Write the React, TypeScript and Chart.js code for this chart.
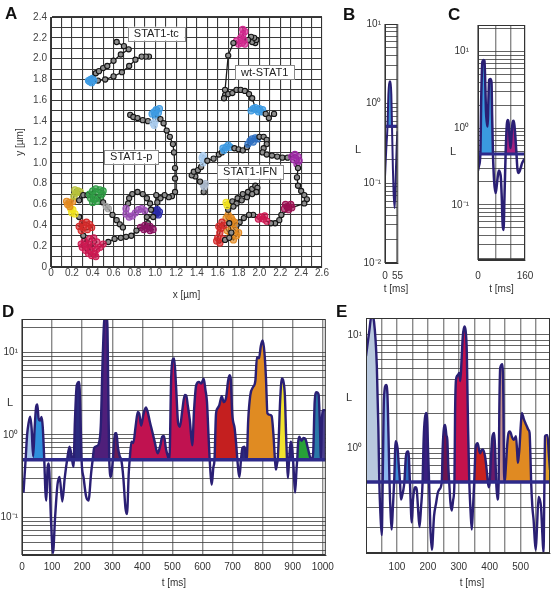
import React, { useEffect, useRef } from 'react';
import { Chart, registerables } from 'chart.js';

Chart.register(...registerables);

const FONT = '"Liberation Sans", Arial, Helvetica, sans-serif';
Chart.defaults.font.family = FONT;
Chart.defaults.font.size = 10;
Chart.defaults.color = '#333';

// ---------------- Panel A : trajectories [x (µm), y (µm), state] ----------------
const A_PALETTE = ['#1b1b1b', '#3d9be3', '#d22a8f', '#a9ccef', '#2a2aa8', '#9b4db5', '#8c1462', '#cd1a52', '#d42a2a', '#f2e21e', '#e3891f', '#b7c23a', '#2e9c44', '#a4a4a4', '#aab8cc', '#2f70c2', '#9d2aa5', '#9c1152'];

const TRACK_TC = [
  [0.94, 2.02, 0], [0.91, 2.02, 0], [0.87, 2.02, 0], [0.81, 1.99, 0], [0.75, 1.93, 0], [0.68, 1.87, 0], [0.6, 1.83, 0], [0.52, 1.8, 0], [0.45, 1.79, 0],
  [0.41, 1.79, 1], [0.39, 1.77, 1], [0.37, 1.78, 1], [0.38, 1.8, 1], [0.4, 1.81, 1], [0.36, 1.79, 1],
  [0.43, 1.86, 0], [0.46, 1.88, 0], [0.5, 1.91, 0], [0.54, 1.93, 0], [0.6, 1.98, 0], [0.67, 2.04, 0], [0.745, 2.09, 0], [0.7, 2.12, 0], [0.63, 2.16, 0],
];

const TRACK_WT = [
  [1.96, 2.15, 0], [1.93, 2.16, 0], [1.97, 2.18, 0], [1.95, 2.2, 0], [1.92, 2.21, 0], [1.89, 2.18, 0],
  [1.86, 2.14, 2], [1.84, 2.28, 2], [1.86, 2.26, 2], [1.84, 2.23, 2], [1.82, 2.2, 2], [1.85, 2.18, 2], [1.83, 2.15, 2], [1.8, 2.14, 2], [1.78, 2.17, 2],
  [1.75, 2.15, 0], [1.7, 2.03, 0], [1.67, 1.7, 0], [1.67, 1.65, 0], [1.66, 1.62, 0], [1.7, 1.66, 0], [1.74, 1.67, 0], [1.78, 1.7, 0], [1.82, 1.7, 0], [1.86, 1.69, 0], [1.9, 1.66, 0], [1.93, 1.62, 0],
  [1.96, 1.53, 1], [2.02, 1.49, 1], [1.99, 1.49, 1], [1.92, 1.5, 1], [1.94, 1.52, 1], [1.97, 1.51, 1], [2.0, 1.52, 1], [2.03, 1.51, 1],
  [2.06, 1.47, 0], [2.09, 1.43, 0], [2.14, 1.47, 0],
];

const TRACK_P = [
  [0.76, 1.46, 0], [0.79, 1.44, 0], [0.83, 1.43, 0], [0.88, 1.41, 0], [0.93, 1.4, 0],
  [0.98, 1.38, 3], [1.0, 1.4, 3], [0.99, 1.36, 3],
  [0.97, 1.47, 1], [0.99, 1.49, 1], [1.01, 1.51, 1], [1.04, 1.52, 1], [1.03, 1.48, 1], [1.0, 1.46, 1],
  [1.05, 1.42, 0], [1.08, 1.38, 0], [1.11, 1.31, 0], [1.14, 1.25, 0], [1.17, 1.18, 0], [1.18, 1.1, 0], [1.19, 0.95, 0], [1.19, 0.85, 0], [1.19, 0.72, 0], [1.16, 0.68, 0], [1.13, 0.67, 0], [1.09, 0.69, 0], [1.05, 0.66, 0], [1.01, 0.69, 0], [1.02, 0.62, 0],
  [1.02, 0.55, 4], [1.04, 0.53, 4], [1.01, 0.51, 4], [1.0, 0.54, 4], [1.03, 0.5, 4],
  [0.98, 0.48, 0], [0.96, 0.55, 0], [0.95, 0.61, 0], [0.92, 0.66, 0], [0.88, 0.7, 0], [0.83, 0.72, 0], [0.78, 0.7, 0], [0.75, 0.66, 0], [0.74, 0.61, 0],
  [0.72, 0.56, 5], [0.72, 0.51, 5], [0.75, 0.48, 5], [0.78, 0.49, 5], [0.81, 0.52, 5], [0.84, 0.55, 5], [0.87, 0.56, 5], [0.9, 0.54, 5],
  [0.92, 0.48, 0], [0.93, 0.42, 0],
  [0.95, 0.39, 6], [0.98, 0.36, 6], [0.95, 0.35, 6], [0.92, 0.37, 6], [0.9, 0.4, 6], [0.89, 0.36, 6], [0.86, 0.38, 6],
  [0.82, 0.35, 0], [0.77, 0.3, 0], [0.72, 0.29, 0], [0.67, 0.28, 0], [0.61, 0.27, 0], [0.55, 0.24, 0],
  [0.5, 0.22, 7], [0.47, 0.19, 7], [0.44, 0.17, 7], [0.43, 0.1, 7], [0.42, 0.13, 7], [0.39, 0.11, 7], [0.36, 0.13, 7], [0.33, 0.16, 7], [0.3, 0.19, 7], [0.29, 0.22, 7], [0.32, 0.25, 7], [0.36, 0.22, 7], [0.4, 0.2, 7], [0.44, 0.24, 7], [0.41, 0.28, 7], [0.37, 0.27, 7], [0.34, 0.2, 7], [0.38, 0.16, 7],
  [0.31, 0.3, 0],
  [0.29, 0.35, 8], [0.35, 0.36, 8], [0.39, 0.38, 8], [0.37, 0.41, 8], [0.34, 0.43, 8], [0.3, 0.42, 8], [0.27, 0.39, 8], [0.31, 0.38, 8],
  [0.27, 0.48, 0],
  [0.23, 0.51, 9], [0.2, 0.52, 9], [0.21, 0.55, 9], [0.19, 0.56, 9],
  [0.18, 0.58, 10], [0.16, 0.6, 10], [0.15, 0.63, 10], [0.18, 0.62, 10], [0.21, 0.63, 10],
  [0.22, 0.68, 11], [0.24, 0.71, 11], [0.23, 0.74, 11], [0.26, 0.73, 11], [0.28, 0.72, 11],
  [0.27, 0.64, 0], [0.31, 0.69, 0], [0.35, 0.69, 0],
  [0.38, 0.66, 12], [0.37, 0.7, 12], [0.4, 0.73, 12], [0.43, 0.75, 12], [0.47, 0.74, 12], [0.5, 0.73, 12], [0.49, 0.7, 12], [0.47, 0.66, 12], [0.44, 0.63, 12], [0.4, 0.62, 12], [0.41, 0.65, 12], [0.43, 0.7, 12],
  [0.5, 0.62, 0],
  [0.53, 0.58, 13], [0.55, 0.56, 13],
  [0.59, 0.5, 0], [0.63, 0.45, 0], [0.66, 0.41, 0], [0.69, 0.38, 0],
];

const TRACK_IFN = [
  [1.465, 0.72, 0],
  [1.47, 0.77, 14], [1.48, 0.8, 14], [1.46, 0.79, 14],
  [1.43, 0.82, 0], [1.385, 0.87, 0], [1.35, 0.88, 0], [1.37, 0.915, 0], [1.41, 0.93, 0], [1.44, 0.96, 0],
  [1.46, 1.0, 3], [1.47, 1.03, 3], [1.45, 1.05, 3], [1.46, 1.07, 3],
  [1.5, 1.02, 0], [1.56, 1.04, 0], [1.61, 1.08, 0], [1.64, 1.1, 0],
  [1.65, 1.14, 1], [1.66, 1.12, 1], [1.68, 1.15, 1], [1.7, 1.17, 1], [1.72, 1.15, 1],
  [1.76, 1.14, 0], [1.8, 1.13, 0], [1.84, 1.12, 0], [1.88, 1.15, 0],
  [1.89, 1.18, 15], [1.91, 1.21, 15], [1.94, 1.2, 15], [1.93, 1.23, 15], [1.96, 1.24, 15], [1.98, 1.23, 15],
  [2.0, 1.25, 0], [2.04, 1.25, 0], [2.07, 1.22, 0], [2.07, 1.18, 0], [2.04, 1.14, 0], [2.03, 1.1, 0], [2.07, 1.08, 0], [2.12, 1.07, 0], [2.17, 1.06, 0], [2.22, 1.05, 0], [2.27, 1.05, 0],
  [2.31, 1.06, 16], [2.34, 1.08, 16], [2.37, 1.06, 16], [2.38, 1.02, 16], [2.36, 0.99, 16], [2.33, 1.03, 16],
  [2.37, 0.95, 0], [2.36, 0.86, 0], [2.37, 0.78, 0], [2.4, 0.73, 0], [2.43, 0.69, 0], [2.455, 0.65, 0], [2.43, 0.61, 0],
  [2.31, 0.57, 17], [2.3, 0.6, 17], [2.27, 0.58, 17], [2.25, 0.6, 17], [2.24, 0.56, 17], [2.28, 0.55, 17],
  [2.21, 0.5, 0], [2.19, 0.45, 0], [2.15, 0.42, 0], [2.11, 0.42, 0],
  [2.07, 0.44, 7], [2.05, 0.49, 7], [2.04, 0.46, 7], [2.01, 0.48, 7], [1.99, 0.46, 7],
  [1.94, 0.5, 0], [1.9, 0.5, 0], [1.85, 0.47, 0], [1.81, 0.43, 0], [1.78, 0.4, 0],
  [1.76, 0.43, 10], [1.74, 0.45, 10], [1.73, 0.47, 10], [1.7, 0.5, 10], [1.68, 0.47, 10], [1.72, 0.42, 10], [1.76, 0.36, 10], [1.8, 0.33, 10], [1.78, 0.3, 10], [1.75, 0.26, 10], [1.72, 0.3, 10], [1.69, 0.35, 10],
  [1.66, 0.4, 8], [1.64, 0.43, 8], [1.61, 0.39, 8], [1.63, 0.37, 8], [1.62, 0.33, 8], [1.6, 0.28, 8], [1.59, 0.25, 8], [1.62, 0.23, 8], [1.65, 0.27, 8],
  [1.67, 0.26, 0], [1.71, 0.28, 0], [1.73, 0.33, 0], [1.71, 0.42, 0], [1.7, 0.55, 0],
  [1.69, 0.59, 9], [1.71, 0.61, 9], [1.68, 0.62, 9],
  [1.74, 0.63, 0], [1.79, 0.66, 0], [1.84, 0.7, 0], [1.89, 0.72, 0], [1.93, 0.75, 0], [1.96, 0.78, 0], [1.98, 0.76, 0], [1.97, 0.72, 0], [1.93, 0.7, 0], [1.88, 0.67, 0], [1.83, 0.64, 0], [1.78, 0.61, 0], [1.75, 0.58, 0],
];

const A_LABEL_TEXT = ['STAT1-tc', 'wt-STAT1', 'STAT1-p', 'STAT1-IFN'];
const A_LABEL_X = [1.01, 2.05, 0.77, 1.91];
const A_LABEL_Y = [2.24, 1.87, 1.06, 0.915];

// ---------------- Panels B-E : L(t) on log scale, [t (ms), L] ----------------
const B_POINTS = [[0, 0.12], [5, 0.25], [11, 0.52], [15, 1.3], [19, 1.9], [25, 1.9], [28, 1.3], [31, 0.52], [35, 0.15], [38, 0.076], [43, 0.049], [48, 0.14], [52, 0.3], [55, 0.45]];
const B_SEGMENTS = [[11, 31]];
const B_SEG_COLORS = ['#3a8fd8'];
const B_THRESHOLD = 0.52;

const C_POINTS = [
  [0, 0.28], [3, 0.32], [8, 0.46], [11, 2.5], [15, 7.4], [19, 7.8], [22, 7.6], [25, 3.5], [27, 1.73], [30, 1.2],
  [33, 1.05], [35, 2.0], [38, 4.26], [42, 4.4], [46, 4.0], [48, 1.5], [51, 0.46], [55, 0.2], [60, 0.142], [64, 0.18],
  [67, 0.23], [71, 0.28], [74, 0.27], [78, 0.22], [81, 0.12], [84, 0.055], [87, 0.047], [90, 0.12], [94, 0.46], [98, 1.1],
  [101, 1.28], [104, 1.2], [108, 0.7], [111, 0.55], [115, 0.9], [118, 1.2], [121, 1.25], [124, 1.1], [128, 0.7], [131, 0.46],
  [134, 0.3], [137, 0.26], [141, 0.27], [145, 0.3], [150, 0.35], [155, 0.38], [160, 0.4],
];
const C_SEGMENTS = [[8, 51], [94, 131]];
const C_SEG_COLORS = ['#3a9ae0', '#a3207f'];
const C_THRESHOLD = 0.46;

const D_POINTS = [
  [5, 0.2], [12, 0.5], [17, 1.0], [22, 1.4], [27, 1.66], [32, 1.2], [37, 0.55], [42, 1.2], [47, 2.2], [51, 2.35],
  [55, 1.6], [60, 1.5], [65, 1.65], [69, 1.25], [74, 0.5], [78, 0.2], [81, 0.16], [85, 0.4], [89, 0.45], [96, 0.1],
  [103, 0.037], [110, 0.1], [118, 0.25], [125, 0.31], [134, 0.156], [142, 0.3], [150, 0.5], [158, 0.72], [165, 0.55], [171, 0.41],
  [176, 1.5], [182, 4.0], [190, 4.4], [194, 2.0], [198, 0.5], [205, 0.3], [213, 0.18], [221, 0.16], [230, 0.35], [235, 0.5],
  [240, 0.7], [248, 0.73], [256, 0.8], [262, 1.3], [268, 8], [275, 28], [283, 28], [287, 3], [290, 0.5], [296, 0.31],
  [302, 0.5], [309, 1.05], [314, 1.05], [319, 0.7], [325, 0.55], [330, 0.5], [337, 0.3], [344, 0.13], [349, 0.11], [355, 0.35],
  [358, 0.5], [364, 0.83], [370, 0.8], [378, 1.3], [385, 1.9], [390, 1.8], [396, 1.3], [404, 1.8], [412, 2.16], [418, 1.9],
  [425, 1.45], [433, 1.1], [441, 0.83], [451, 0.6], [460, 0.75], [466, 0.95], [472, 0.97], [478, 0.7], [485, 0.55], [490, 0.5],
  [496, 5], [501, 8.2], [506, 8.5], [512, 4], [519, 1.4], [525, 1.26], [533, 2.0], [541, 3.05], [546, 3.0], [551, 2.3],
  [558, 1.5], [566, 0.75], [572, 2.0], [579, 4.0], [588, 4.4], [596, 4.2], [604, 4.8], [610, 3.5], [615, 2.5], [620, 1.0],
  [624, 0.5], [628, 0.3], [631, 0.25], [636, 0.4], [640, 0.5], [645, 1.8], [650, 2.1], [656, 2.3], [664, 2.95], [671, 2.5],
  [679, 2.9], [685, 4.5], [690, 5.3], [694, 4.8], [699, 1.8], [707, 1.2], [713, 0.7], [716, 0.5], [720, 0.35], [723, 0.31],
  [728, 0.5], [733, 0.7], [740, 0.72], [747, 0.5], [752, 1.5], [759, 3.05], [768, 3.8], [776, 4.6], [781, 8.8], [788, 8.5],
  [794, 12], [800, 14], [806, 10], [811, 5], [816, 1.83], [825, 1.75], [830, 1.7], [836, 1.0], [841, 0.5], [844, 0.38],
  [848, 0.45], [850, 0.5], [853, 0.8], [858, 2.5], [864, 4.85], [869, 4.5], [874, 3.0], [878, 1.0], [881, 0.5], [884, 0.3],
  [888, 0.5], [893, 0.83], [897, 0.75], [902, 0.45], [908, 0.2], [913, 0.4], [915, 0.5], [918, 0.8], [922, 0.95], [929, 0.85],
  [936, 0.92], [943, 0.88], [950, 0.7], [957, 0.55], [963, 0.5], [968, 0.6], [973, 2.5], [979, 3.3], [986, 3.1], [990, 1.5],
  [994, 0.5], [997, 1.5], [1002, 2.0], [1010, 2.0],
];
const D_SEGMENTS = [[12, 37], [37, 74], [235, 290], [302, 330], [358, 624], [640, 716], [747, 841], [850, 881], [915, 963], [963, 994], [994, 1010]];
const D_SEG_COLORS = ['#a9c9ee', '#2f8fdc', '#4f1f7a', '#6b1d56', '#c01250', '#c41f1f', '#e08b22', '#f1e22e', '#27a038', '#2a78a8', '#4a3f8f'];
const D_THRESHOLD = 0.5;

const E_POINTS = [
  [0, 6.5], [11, 11], [18, 15], [26, 13], [35, 5.3], [40, 1.5], [43, 0.5], [47, 0.25], [51, 0.17], [54, 0.5],
  [58, 2.7], [65, 3.6], [69, 3.1], [73, 1.2], [76, 0.5], [80, 0.25], [83, 0.19], [87, 0.3], [91, 0.5], [96, 1.15],
  [102, 1.0], [106, 0.7], [110, 0.5], [113, 0.35], [117, 0.38], [121, 0.43], [124, 0.5], [129, 0.84], [134, 0.93], [137, 0.93],
  [142, 0.5], [148, 0.22], [152, 0.35], [156, 0.43], [160, 0.45], [164, 0.43], [168, 0.3], [173, 0.2], [178, 0.3], [183, 0.5],
  [186, 1.1], [189, 1.66], [194, 2.04], [198, 1.7], [201, 0.9], [204, 0.5], [208, 0.2], [213, 0.126], [220, 0.25], [227, 0.33],
  [232, 0.4], [237, 0.43], [245, 0.5], [248, 1.0], [252, 1.5], [256, 1.6], [260, 1.3], [263, 1.18], [266, 0.7], [269, 0.5],
  [273, 0.33], [277, 0.28], [282, 0.35], [286, 0.5], [288, 2.0], [291, 4.0], [297, 4.4], [301, 4.6], [305, 3.9], [309, 6.0],
  [313, 9.7], [318, 11.9], [322, 11], [326, 7], [330, 1.5], [334, 0.5], [338, 0.28], [342, 0.19], [346, 0.3], [350, 0.5],
  [353, 0.85], [355, 1.03], [361, 1.1], [366, 0.95], [369, 0.9], [373, 0.95], [378, 0.97], [385, 0.84], [390, 0.65], [394, 0.5],
  [397, 0.45], [400, 0.5], [405, 0.9], [409, 1.27], [415, 1.36], [418, 0.9], [421, 0.5], [425, 0.35], [429, 0.5], [431, 2.0],
  [434, 5.1], [441, 5.5], [444, 3], [447, 0.5], [450, 0.55], [453, 0.74], [457, 1.1], [461, 1.36], [465, 1.4], [468, 1.36],
  [472, 1.25], [477, 1.18], [481, 1.22], [485, 1.27], [489, 0.9], [491, 0.74], [494, 0.85], [496, 0.97], [500, 1.5], [504, 2.04],
  [508, 1.9], [511, 1.78], [516, 1.65], [520, 1.56], [525, 1.45], [529, 1.36], [532, 0.8], [534, 0.5], [538, 0.3], [542, 0.23],
  [546, 0.15], [549, 0.126], [553, 0.2], [558, 0.37], [562, 0.35], [566, 0.3], [570, 0.18], [574, 0.118], [577, 0.5], [579, 1.27],
  [583, 1.3], [587, 1.3], [591, 0.9], [595, 0.64],
];
const E_SEGMENTS = [[0, 43], [54, 76], [91, 110], [124, 142], [183, 204], [245, 269], [286, 334], [350, 394], [400, 421], [429, 447], [447, 534], [577, 595]];
const E_SEG_COLORS = ['#b8c8de', '#8cb8ee', '#3d8fd6', '#2e6fc0', '#3b1f80', '#6e1450', '#c4124c', '#c8221e', '#6a1a6a', '#c3908a', '#e08a22', '#e2a22a'];
const E_THRESHOLD = 0.5;

// axis ranges / tick positions
const B_X = { min: 0, max: 55, grid: [0, 55], labels: [0, 55] };
const C_X = { min: 0, max: 160, grid: [0, 60, 110, 160], labels: [0, 160] };
const D_X = { min: 0, max: 1010, grid: [0, 100, 200, 300, 400, 500, 600, 700, 800, 900, 1000], labels: [0, 100, 200, 300, 400, 500, 600, 700, 800, 900, 1000] };
const E_X = { min: 0, max: 595, grid: [50, 100, 150, 200, 250, 300, 350, 400, 450, 500, 550], labels: [100, 200, 300, 400, 500] };
const B_Y = { min: 0.01, max: 10 };
const C_Y = { min: 0.019, max: 22.3 };
const D_Y = { min: 0.035, max: 25.5 };
const E_Y = { min: 0.118, max: 14.1 };

const NAVY = '#2a1f74';
const NAVY_FILL = '#2b2a7e';
const THR_COLOR = '#2e2a8a';

// ---------------- helpers ----------------
const framePlugin = {
  id: 'frame',
  afterDatasetsDraw(chart: any) {
    const { ctx, chartArea: a } = chart;
    ctx.save();
    ctx.strokeStyle = '#333';
    ctx.lineWidth = 1;
    ctx.strokeRect(a.left + 0.5, a.top + 0.5, a.right - a.left - 1, a.bottom - a.top - 1);
    ctx.restore();
  },
};

const boxPlugin = {
  id: 'labelBoxes',
  afterDatasetsDraw(chart: any) {
    const { ctx, scales } = chart;
    ctx.save();
    ctx.font = '11px ' + FONT;
    ctx.textAlign = 'center';
    ctx.textBaseline = 'middle';
    A_LABEL_TEXT.forEach((t, i) => {
      const px = scales.x.getPixelForValue(A_LABEL_X[i]);
      const py = scales.y.getPixelForValue(A_LABEL_Y[i]);
      const w = ctx.measureText(t).width + 12;
      const h = 14;
      ctx.fillStyle = '#fff';
      ctx.fillRect(px - w / 2, py - h / 2, w, h);
      ctx.strokeStyle = '#8a8a8a';
      ctx.lineWidth = 1;
      ctx.strokeRect(Math.round(px - w / 2) + 0.5, Math.round(py - h / 2) + 0.5, Math.round(w), h);
      ctx.fillStyle = '#222';
      ctx.fillText(t, px, py + 0.5);
    });
    ctx.restore();
  },
};

const tenthLabel = (v: any) => {
  const k = Math.round(Number(v) * 10);
  if (k % 2 !== 0) return '';
  return k === 0 ? '0' : (k / 10).toFixed(1);
};

function logTicks(min: number, max: number) {
  const out: number[] = [];
  for (let k = Math.floor(Math.log10(min)); k <= Math.ceil(Math.log10(max)); k++) {
    for (let n = 1; n <= 9; n++) {
      const v = parseFloat((n * Math.pow(10, k)).toPrecision(6));
      if (v >= min * 0.9999 && v <= max * 1.0001) out.push(v);
    }
  }
  return out;
}

const SUP: Record<string, string> = { '-': '\u207B', '0': '\u2070', '1': '\u00B9', '2': '\u00B2', '3': '\u00B3' };
const pow10Label = (v: any) => {
  const e = Math.log10(Number(v));
  const r = Math.round(e);
  if (Math.abs(e - r) > 1e-6) return '';
  return '10' + String(r).split('').map((c) => SUP[c]).join('');
};

function buildA() {
  const tracks = [TRACK_TC, TRACK_WT, TRACK_P, TRACK_IFN];
  return {
    type: 'scatter',
    data: {
      datasets: tracks.map((tr) => ({
        data: tr.map((p) => ({ x: p[0], y: p[1] })),
        showLine: true,
        borderColor: '#1b1b1b',
        borderWidth: 1.3,
        tension: 0,
        pointRadius: tr.map((p) => (p[2] === 0 ? 2.6 : 3.1)),
        pointBorderWidth: 1.1,
        pointBackgroundColor: tr.map((p) => (p[2] === 0 ? '#8e8e8e' : A_PALETTE[p[2]] + 'aa')),
        pointBorderColor: tr.map((p) => (p[2] === 0 ? '#151515' : A_PALETTE[p[2]])),
      })),
    },
    options: {
      responsive: false,
      animation: false,
      events: [],
      layout: { padding: { left: 0, top: 17, right: 13, bottom: 0 } },
      plugins: { legend: { display: false }, tooltip: { enabled: false } },
      scales: {
        x: {
          type: 'linear', min: 0, max: 2.6,
          afterFit: (s: any) => { s.height = 35; },
          ticks: { stepSize: 0.1, autoSkip: false, maxRotation: 0, padding: 0, color: '#444', font: { size: 10 }, callback: tenthLabel },
          grid: { color: '#3a3a3a', lineWidth: 1.1, drawTicks: false },
          border: { display: true, color: '#333' },
          title: { display: true, text: 'x [µm]', color: '#333', font: { size: 10 }, padding: { top: 0, bottom: 1 } },
        },
        y: {
          type: 'linear', min: 0, max: 2.4,
          afterFit: (s: any) => { s.width = 51; },
          ticks: { stepSize: 0.1, autoSkip: false, padding: 4, color: '#444', font: { size: 10 }, callback: tenthLabel },
          grid: { color: '#3a3a3a', lineWidth: 1.1, drawTicks: false },
          border: { display: true, color: '#333' },
          title: { display: true, text: 'y [µm]', color: '#333', font: { size: 10 }, padding: { top: 14, bottom: 0 } },
        },
      },
    },
    plugins: [framePlugin, boxPlugin],
  };
}

type Lay = { pad: any; yW: number; xH: number; xPad: number; tPad: number; yPad: number; lw: number; tw: number; title: boolean };

function buildLog(points: number[][], segs: number[][], segColors: string[], th: number, X: any, Y: any, L: Lay) {
  const pts = points.map(([x, y]) => ({ x, y }));
  const segDs = segs.map(([a, b], i) => ({
    data: pts.filter((p) => p.x >= a && p.x <= b),
    borderColor: 'transparent',
    borderWidth: 0,
    pointRadius: 0,
    cubicInterpolationMode: 'monotone',
    fill: { target: { value: th }, above: segColors[i], below: 'transparent' },
    order: 5,
  }));
  return {
    type: 'line',
    data: {
      datasets: [
        {
          data: pts, borderColor: NAVY, borderWidth: L.lw, pointRadius: 0, cubicInterpolationMode: 'monotone',
          fill: { target: { value: th }, above: NAVY_FILL, below: 'transparent' }, order: 10,
        },
        ...segDs,
        { data: [{ x: X.min, y: th }, { x: X.max, y: th }], borderColor: THR_COLOR, borderWidth: L.tw, pointRadius: 0, fill: false, order: 0 },
      ],
    },
    options: {
      responsive: false,
      animation: false,
      events: [],
      layout: { padding: L.pad },
      plugins: { legend: { display: false }, tooltip: { enabled: false }, filler: { drawTime: 'beforeDatasetsDraw', propagate: false } },
      scales: {
        x: {
          type: 'linear', min: X.min, max: X.max,
          afterBuildTicks: (s: any) => { s.ticks = X.grid.map((v: number) => ({ value: v })); },
          afterFit: (s: any) => { s.height = L.xH; },
          ticks: { autoSkip: false, maxRotation: 0, padding: L.xPad, color: '#333', font: { size: 10 }, callback: (v: any) => (X.labels.includes(Number(v)) ? String(v) : '') },
          grid: { color: '#8a8a8a', lineWidth: 1.4, drawTicks: false },
          border: { display: true, color: '#333' },
          title: { display: L.title, text: 't [ms]', color: '#333', font: { size: 10 }, padding: { top: 0, bottom: L.tPad } },
        },
        y: {
          type: 'logarithmic', min: Y.min, max: Y.max,
          afterBuildTicks: (s: any) => { s.ticks = logTicks(Y.min, Y.max).map((v) => ({ value: v })); },
          afterFit: (s: any) => { s.width = L.yW; },
          ticks: { autoSkip: false, padding: L.yPad, color: '#333', font: { size: 10 }, callback: pow10Label },
          grid: { color: '#3c3c3c', lineWidth: 0.8, drawTicks: false },
          border: { display: true, color: '#333' },
        },
      },
    },
    plugins: [framePlugin],
  };
}

function ChartBox({ left, top, width, height, make }: { left: number; top: number; width: number; height: number; make: () => any }) {
  const ref = useRef<HTMLCanvasElement>(null);
  useEffect(() => {
    const chart = new Chart(ref.current as HTMLCanvasElement, make());
    return () => chart.destroy();
  }, []);
  return <canvas ref={ref} width={width} height={height} style={{ position: 'absolute', left, top, width, height }} />;
}

const letterStyle = (left: number, top: number): React.CSSProperties => ({
  position: 'absolute', left, top, fontSize: 17, lineHeight: '18px', fontWeight: 'bold', color: '#111', fontFamily: FONT,
});
const lStyle = (left: number, top: number): React.CSSProperties => ({
  position: 'absolute', left, top, fontSize: 11, lineHeight: '13px', color: '#333', fontFamily: FONT,
});
const tTitle = (cx: number, top: number): React.CSSProperties => ({
  position: 'absolute', left: cx - 25, top, width: 50, textAlign: 'center', fontSize: 10, lineHeight: '12px', color: '#333', fontFamily: FONT,
});

export default function App() {
  return (
    <div style={{ position: 'absolute', left: 0, top: 0, width: 553, height: 590, background: '#fff', overflow: 'hidden', fontFamily: FONT }}>
      <ChartBox left={0} top={0} width={335} height={302} make={buildA} />
      <ChartBox left={340} top={0} width={70} height={302}
        make={() => buildLog(B_POINTS, B_SEGMENTS, B_SEG_COLORS, B_THRESHOLD, B_X, B_Y, { pad: { left: 0, top: 24, right: 9, bottom: 0 }, yW: 45, xH: 39, xPad: 7, tPad: 7, yPad: 4, lw: 2, tw: 3, title: false })} />
      <ChartBox left={415} top={0} width={130} height={302}
        make={() => buildLog(C_POINTS, C_SEGMENTS, C_SEG_COLORS, C_THRESHOLD, C_X, C_Y, { pad: { left: 0, top: 25, right: 20, bottom: 0 }, yW: 63, xH: 42, xPad: 10, tPad: 7, yPad: 9, lw: 2.5, tw: 3, title: true })} />
      <ChartBox left={0} top={300} width={340} height={290}
        make={() => buildLog(D_POINTS, D_SEGMENTS, D_SEG_COLORS, D_THRESHOLD, D_X, D_Y, { pad: { left: 0, top: 19, right: 9, bottom: 0 }, yW: 22, xH: 35, xPad: 6, tPad: 1, yPad: 4, lw: 2.4, tw: 3.5, title: true })} />
      <ChartBox left={330} top={300} width={223} height={290}
        make={() => buildLog(E_POINTS, E_SEGMENTS, E_SEG_COLORS, E_THRESHOLD, E_X, E_Y, { pad: { left: 0, top: 18, right: 3, bottom: 0 }, yW: 36, xH: 37, xPad: 8, tPad: 1, yPad: 4, lw: 2.4, tw: 3.5, title: false })} />
      <div style={tTitle(396, 283)}>t [ms]</div>
      <div style={tTitle(472, 577)}>t [ms]</div>
      <div style={letterStyle(5, 5)}>A</div>
      <div style={letterStyle(343, 6)}>B</div>
      <div style={letterStyle(448, 6)}>C</div>
      <div style={letterStyle(2, 303)}>D</div>
      <div style={letterStyle(336, 303)}>E</div>
      <div style={lStyle(355, 143)}>L</div>
      <div style={lStyle(450, 145)}>L</div>
      <div style={lStyle(7, 396)}>L</div>
      <div style={lStyle(346, 391)}>L</div>
    </div>
  );
}
